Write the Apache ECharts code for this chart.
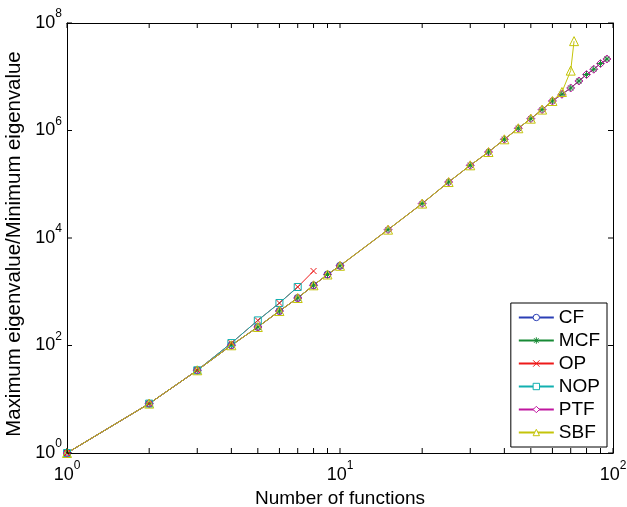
<!DOCTYPE html>
<html>
<head>
<meta charset="utf-8">
<script src="https://cdn.jsdelivr.net/npm/echarts@6/dist/echarts.min.js"></script>
<style>html,body{margin:0;padding:0;background:#fff}#c{width:627px;height:507px}</style>
</head>
<body>
<div id="c"></div>
<script>
// ---- data ----
const nAll = [1,2,3,4,5,6,7,8,9,10,15,20,25,30,35,40,45,50,55,60,65,70,75,80,85,90,95];
const mcfVals = [1,8.3,34.6,101,221,438,765,1318,2094,3040,14300,43700,110000,225000,398000,686000,1.10e6,1.66e6,2.45e6,3.54e6,4.71e6,6.18e6,8.34e6,1.10e7,1.38e7,1.76e7,2.14e7];
const ptfVals = [1,8.3,34.6,101,221,438,765,1318,2094,3040,14300,43700,110000,225000,398000,686000,1.10e6,1.66e6,2.45e6,3.54e6,4.71e6,6.18e6,8.34e6,1.10e7,1.38e7,1.76e7,2.14e7];
const nCf = [1,2,3,4,5,6,7,8,9,10];
const cfVals = [1,8.3,34.6,101,221,438,765,1318,2094,3040];
const nOp = [1,2,3,4,5,6,7,8];
const opVals = [1,8.3,34.6,111,293,618,1226,2432];
const nNop = [1,2,3,4,5,6,7];
const nopVals = [1,8.3,34.6,111,293,618,1226];
const nSbf = [1,2,3,4,5,6,7,8,9,10,15,20,25,30,35,40,45,50,55,60,65,70,72];
const sbfVals = [1,8.3,34.6,101,221,438,765,1318,2094,3040,14300,43700,110000,225000,398000,686000,1.10e6,1.66e6,2.45e6,3.54e6,5.2e6,1.30e7,4.6e7];
const xTicks = [1,2,3,4,5,6,7,8,9,10,20,30,40,50,60,70,80,90,100];
const yTicks = [1,1e2,1e4,1e6,1e8];
const X_MIN = 1, X_MAX = 100, Y_MIN = 1, Y_MAX = 1e8;

const FONT = '"Liberation Sans", Arial, sans-serif';
const names = ['CF','MCF','OP','NOP','PTF','SBF'];
const colors = {CF:'#2b3fb5', MCF:'#178a35', OP:'#ee1a1a', NOP:'#12b0b0', PTF:'#c0169f', SBF:'#c4c40a'};
const ASTER = 'path://M0,-1L0,1M-1,0L1,0M-0.72,-0.72L0.72,0.72M-0.72,0.72L0.72,-0.72';
const XMARK = 'path://M-1,-1L1,1M-1,1L1,-1';

function zip(xs, ys){ return xs.map((x,i)=>[x, ys[i]]); }
function sup(v){ const e = Math.round(Math.log10(v)); return '{b|10}{s|' + e + '}'; }
const rich = {
  b:{fontSize:18, fontFamily:FONT, color:'#000', lineHeight:18, verticalAlign:'bottom'},
  s:{fontSize:12, fontFamily:FONT, color:'#000', lineHeight:12, padding:[0,0,12,0], verticalAlign:'bottom'}
};
function mk(name, xs, ys, symbol, size){
  return {
    name, type:'line', data: zip(xs, ys), symbol, symbolSize:size, showSymbol:true,
    color: colors[name],
    lineStyle:{color:colors[name], width:1},
    itemStyle:{color:'none', borderColor:colors[name], borderWidth:1},
    emphasis:{disabled:true}, animation:false, z: 2
  };
}
const TL = 5;
function tickSeries(vals, isX){
  return {
    type:'custom', silent:true, animation:false, z:5, clip:false,
    data: vals.map(v => [v]),
    renderItem: function(params, api){
      const v = api.value(0);
      if (isX){
        const b = api.coord([v, Y_MIN]), t = api.coord([v, Y_MAX]);
        return {type:'group', children:[
          {type:'line', shape:{x1:b[0], y1:b[1], x2:b[0], y2:b[1]-TL}, style:{stroke:'#000', lineWidth:1}},
          {type:'line', shape:{x1:t[0], y1:t[1], x2:t[0], y2:t[1]+TL}, style:{stroke:'#000', lineWidth:1}}
        ]};
      } else {
        const l = api.coord([X_MIN, v]), r = api.coord([X_MAX, v]);
        return {type:'group', children:[
          {type:'line', shape:{x1:l[0], y1:l[1], x2:l[0]+TL, y2:l[1]}, style:{stroke:'#000', lineWidth:1}},
          {type:'line', shape:{x1:r[0], y1:r[1], x2:r[0]-TL, y2:r[1]}, style:{stroke:'#000', lineWidth:1}}
        ]};
      }
    }
  };
}
const axLine = {show:true, onZero:false, lineStyle:{color:'#000', width:1}};
const chart = echarts.init(document.getElementById('c'), null, {renderer:'canvas'});
chart.setOption({
  backgroundColor:'#fff',
  animation:false,
  grid:{left:67, right:14, top:23, bottom:54, containLabel:false, outerBoundsMode:'none'},
  xAxis:[
    {type:'log', logBase:10, min:X_MIN, max:X_MAX, position:'bottom',
     name:'Number of functions', nameLocation:'middle', nameGap:32,
     nameTextStyle:{fontSize:19, fontFamily:FONT, color:'#000'},
     axisLine:axLine, splitLine:{show:false}, axisTick:{show:false},
     axisLabel:{show:true, margin:13, formatter:sup, rich}},
    {type:'log', logBase:10, min:X_MIN, max:X_MAX, position:'top',
     axisLine:axLine, splitLine:{show:false}, axisTick:{show:false}, axisLabel:{show:false}}
  ],
  yAxis:[
    {type:'log', logBase:10, min:Y_MIN, max:Y_MAX, position:'left', splitNumber:4,
     name:'Maximum eigenvalue/Minimum eigenvalue', nameLocation:'middle', nameGap:38,
     nameTextStyle:{fontSize:20.4, fontFamily:FONT, color:'#000', padding:[0,12,0,0]},
     axisLine:axLine, splitLine:{show:false}, axisTick:{show:false},
     axisLabel:{show:true, margin:5, customValues:yTicks, formatter:sup, rich}},
    {type:'log', logBase:10, min:Y_MIN, max:Y_MAX, position:'right',
     axisLine:axLine, splitLine:{show:false}, axisTick:{show:false}, axisLabel:{show:false}}
  ],
  legend:{
    orient:'vertical', right:20, top:303,
    backgroundColor:'#fff', borderColor:'#000', borderWidth:1,
    padding:[5,7,5,7], itemGap:4, itemWidth:35, itemHeight:8,
    textStyle:{fontSize:19, fontFamily:FONT, color:'#000', lineHeight:19},
    data: names.map(n => ({name:n, itemStyle:{color:'#fff', borderColor:colors[n], borderWidth:1}}))
  },
  series:[
    mk('CF', nCf, cfVals, 'circle', 7),
    mk('MCF', nAll, mcfVals, ASTER, 7),
    mk('OP', nOp, opVals, XMARK, 6),
    mk('NOP', nNop, nopVals, 'rect', 7),
    mk('PTF', nAll, ptfVals, 'diamond', 8),
    mk('SBF', nSbf, sbfVals, 'triangle', 9),
    tickSeries(xTicks, true),
    tickSeries(yTicks, false)
  ]
});
</script>
</body>
</html>
